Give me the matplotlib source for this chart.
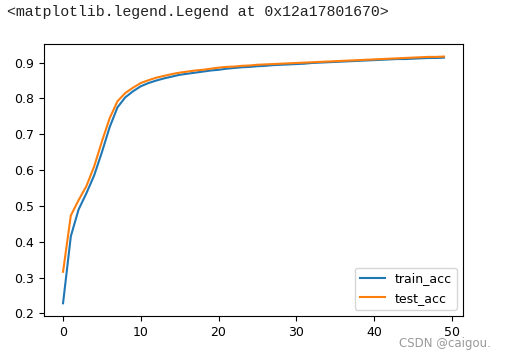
import matplotlib
matplotlib.use('Agg')
import matplotlib.pyplot as plt

epochs = list(range(50))

train_acc = [0.228, 0.415, 0.490, 0.535, 0.585, 0.650, 0.720, 0.775, 0.803, 0.820,
             0.834, 0.843, 0.850, 0.856, 0.861, 0.866, 0.869, 0.872, 0.875, 0.878,
             0.880, 0.883, 0.885, 0.887, 0.888, 0.890, 0.891, 0.893, 0.894, 0.895,
             0.896, 0.897, 0.899, 0.900, 0.901, 0.902, 0.903, 0.904, 0.905, 0.906,
             0.907, 0.908, 0.909, 0.910, 0.910, 0.911, 0.912, 0.913, 0.913, 0.914]

test_acc = [0.316, 0.473, 0.516, 0.555, 0.610, 0.680, 0.745, 0.792, 0.815, 0.830,
            0.843, 0.851, 0.858, 0.863, 0.868, 0.872, 0.875, 0.878, 0.880, 0.883,
            0.886, 0.888, 0.889, 0.891, 0.892, 0.894, 0.895, 0.896, 0.897, 0.898,
            0.899, 0.900, 0.901, 0.902, 0.903, 0.904, 0.905, 0.906, 0.907, 0.908,
            0.909, 0.910, 0.911, 0.912, 0.913, 0.914, 0.915, 0.916, 0.916, 0.917]

plt.rcParams['font.size'] = 9

fig = plt.figure(figsize=(5.06, 3.53), dpi=100)
ax = fig.add_axes([44 / 506, 37 / 353, 419 / 506, 272 / 353])

ax.plot(epochs, train_acc, label='train_acc', lw=1.5)
ax.plot(epochs, test_acc, label='test_acc', lw=1.5)
ax.set_ylim(0.1925, 0.952)
ax.set_yticks([0.2, 0.3, 0.4, 0.5, 0.6, 0.7, 0.8, 0.9])
ax.set_xticks([0, 10, 20, 30, 40, 50])
ax.legend(loc='lower right')

# jupyter output line above the figure
fig.text(7 / 506, 1 - 12 / 353, '<matplotlib.legend.Legend at 0x12a17801670>',
         family='Liberation Mono', fontsize=10.7, va='center', ha='left', color='#222222')
# watermark (nudged just below the "50" tick label)
fig.text(491 / 506, 1 - 344 / 353, 'CSDN @caigou.', fontsize=8.5,
         va='center', ha='right', color='#999999')

fig.savefig('out.png', dpi=100)
